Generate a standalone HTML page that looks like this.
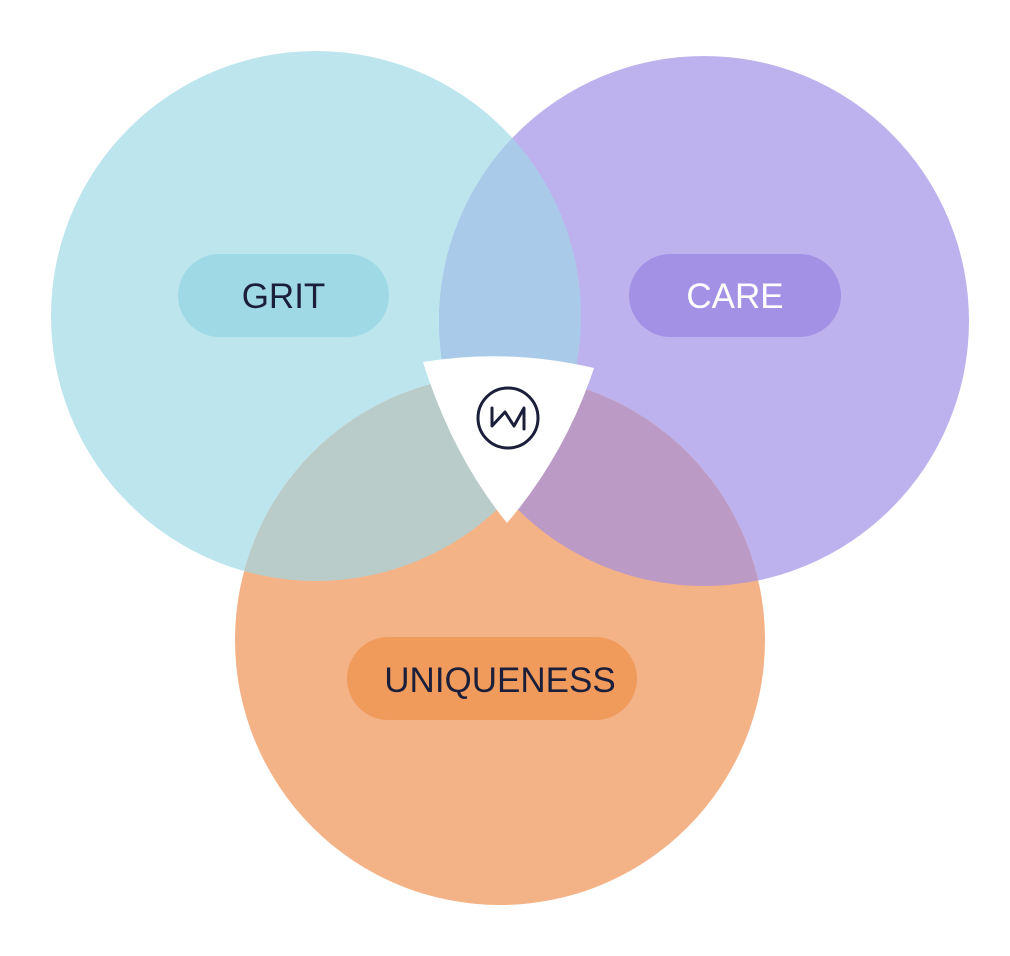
<!DOCTYPE html>
<html><head><style>
html,body{margin:0;padding:0;background:#fff;}
svg{display:block}
text{font-family:"Liberation Sans",sans-serif;font-size:35px;}
</style></head><body>
<svg width="1010" height="956" viewBox="0 0 1010 956" xmlns="http://www.w3.org/2000/svg">
<defs>
<clipPath id="cb"><circle cx="316" cy="316" r="265"/></clipPath>
<clipPath id="cp"><circle cx="704" cy="321" r="265"/></clipPath>
</defs>
<circle cx="316" cy="316" r="265" fill="#bde5ee"/>
<circle cx="704" cy="321" r="265" fill="#beb2ee"/>
<circle cx="500" cy="640" r="265" fill="#f4b387"/>
<circle cx="704" cy="321" r="265" fill="#a9cbe9" clip-path="url(#cb)"/>
<circle cx="500" cy="640" r="265" fill="#b9ccc9" clip-path="url(#cb)"/>
<circle cx="500" cy="640" r="265" fill="#bb9ac6" clip-path="url(#cp)"/>
<path d="M423,362 Q508,348 594,368 Q565,455 507,523 Q452,455 423,362 Z" fill="#fff"/>
<circle cx="508" cy="418" r="30" fill="none" stroke="#1b1f3a" stroke-width="3"/>
<polyline points="492,408 492,426 505,412 514,426 524,408 524,429" fill="none" stroke="#1b1f3a" stroke-width="3" stroke-linejoin="round" stroke-linecap="round"/>
<rect x="178" y="254" width="211" height="83" rx="41.5" fill="#9fd9e6"/>
<text x="283.5" y="308" text-anchor="middle" fill="#1b1f3a">GRIT</text>
<rect x="629" y="254" width="212" height="83" rx="41.5" fill="#a391e6"/>
<text x="735" y="308" text-anchor="middle" fill="#fff">CARE</text>
<rect x="347" y="637" width="290" height="83" rx="41.5" fill="#f09a5c"/>
<text x="500" y="692" text-anchor="middle" fill="#1b1f3a">UNIQUENESS</text>
</svg>
</body></html>
